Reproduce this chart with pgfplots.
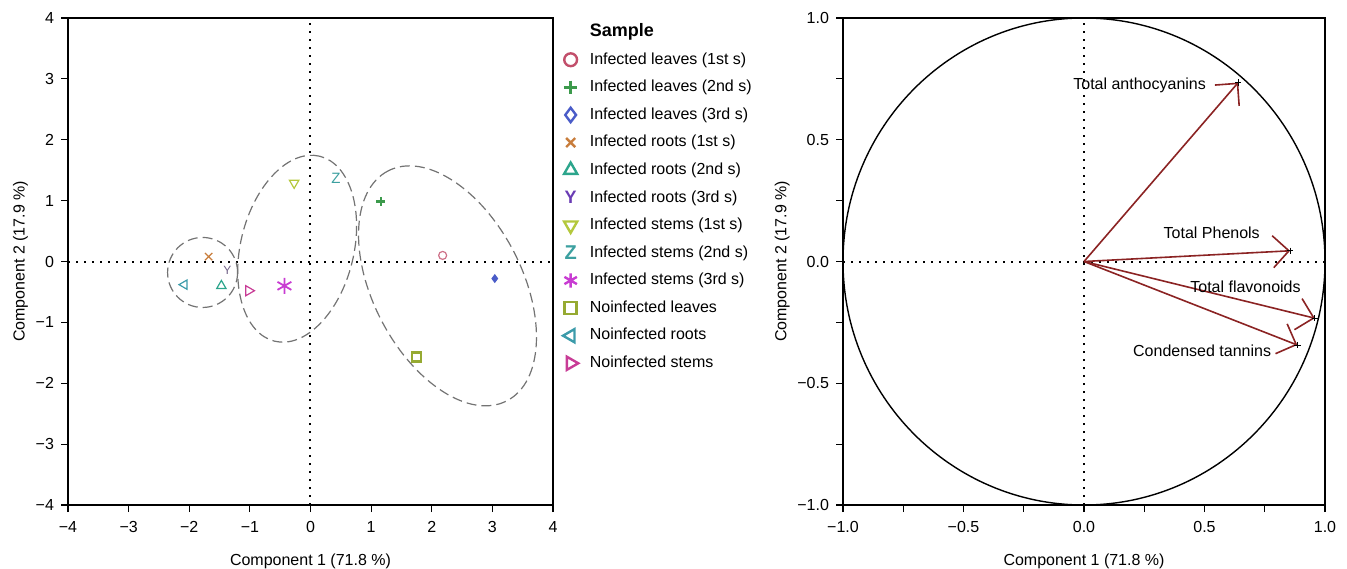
\documentclass[border=0pt]{standalone}
\usepackage{pgfplots}
\pgfplotsset{compat=1.18}
\usepackage{fontspec}
\setmainfont{Liberation Sans}
\usetikzlibrary{arrows.meta}

\definecolor{cA}{HTML}{C24F6B}
\definecolor{cB}{HTML}{3C9A4C}
\definecolor{cC}{HTML}{4A5CC8}
\definecolor{cD}{HTML}{C87D3C}
\definecolor{cE}{HTML}{2CA58C}
\definecolor{cF}{HTML}{6A3CB4}
\definecolor{cG}{HTML}{B4C83C}
\definecolor{cH}{HTML}{3CA0A0}
\definecolor{cI}{HTML}{C83CD2}
\definecolor{cJ}{HTML}{96AA32}
\definecolor{cK}{HTML}{3C9BAA}
\definecolor{cL}{HTML}{C83C96}
\definecolor{vred}{HTML}{8B2323}

\newcommand{\fs}{\fontsize{8}{9.5}\selectfont}

\pgfplotsset{
  pca/.style={
    scale only axis,
    axis line style={line width=0.6pt},
    tick align=outside,
    xtick pos=left, ytick pos=left,
    major tick length=3.5pt, minor tick length=3.5pt,
    every tick/.style={black, line width=0.6pt},
    ticklabel style={font=\fs},
    xticklabel style={yshift=-1pt},
    label style={font=\fs},
    xlabel shift=4pt,
  },
  zeroline/.style={black, line width=1pt, dash pattern=on 1pt off 3pt, forget plot},
  pt/.style={only marks, forget plot, line width=0.6pt},
}

\begin{document}
\begin{tikzpicture}
\begin{axis}[pca,
  at={(0,0)}, anchor=south west,
  width=242.5pt, height=243.5pt,
  xmin=-4, xmax=4, ymin=-4, ymax=4,
  xtick={-4,...,4}, ytick={-4,...,4},
  xticklabels={−4,−3,−2,−1,0,1,2,3,4},
  yticklabels={−4,−3,−2,−1,0,1,2,3,4},
  xlabel={Component 1 (71.8 \%)},
  ylabel={Component 2 (17.9 \%)},
  ylabel shift=-3pt,
  legend cell align=left,
  legend image code/.code={%
    \draw[#1] plot coordinates {(0.3cm,0cm)};
    \path (0cm,0cm) (0.545cm,0cm);},
  legend style={at={(rel axis cs:1,1)}, anchor=north west, xshift=-3.5pt, yshift=1.5pt,
    draw=none, fill=none, font=\fs, row sep=2.5pt},
]
\addplot[zeroline] coordinates {(-4,0) (4,0)};
\addplot[zeroline] coordinates {(0,-4) (0,4)};

% sample scores
\addplot[pt, cA!80, mark=o, mark size=2pt] coordinates {(2.18,0.10)};
\addplot[pt, cB, mark=+, mark size=2.2pt, line width=1.3pt] coordinates {(1.16,0.99)};
\addplot[pt, cC, mark=diamond*, mark size=1.8pt] coordinates {(3.04,-0.28)};
\addplot[pt, cD, mark=x, mark size=2.6pt] coordinates {(-1.68,0.08)};
\addplot[pt, cE, mark=triangle, mark size=2.7pt] coordinates {(-1.47,-0.40)};
\addplot[pt, mark=text, text mark={\fontsize{6}{6}\selectfont\textcolor{cF!45!black!70}{Y}}] coordinates {(-1.37,-0.15)};
\addplot[pt, cG, mark=triangle, mark size=2.7pt, mark options={rotate=180}] coordinates {(-0.27,1.29)};
\addplot[pt, mark=text, text mark={\fontsize{7.5}{7.5}\selectfont\textcolor{cH}{Z}}] coordinates {(0.42,1.36)};
\addplot[pt, cI, mark=asterisk, mark size=4pt, line width=0.9pt] coordinates {(-0.43,-0.40)};
\addplot[pt, cJ, mark=square, mark size=2.2pt, line width=1.2pt] coordinates {(1.75,-1.57)};
\addplot[pt, cK, mark=triangle, mark size=2.7pt, mark options={rotate=90}] coordinates {(-2.08,-0.38)};
\addplot[pt, cL, mark=triangle, mark size=2.9pt, mark options={rotate=-90}] coordinates {(-1.02,-0.48)};

% group ellipses
\draw[black!55, line width=0.6pt, dash pattern=on 5pt off 2.5pt]
  (axis cs:-1.78,-0.18) circle [radius=17.5pt];
\draw[black!55, line width=0.6pt, dash pattern=on 5pt off 2.5pt, rotate around={76.3:(axis cs:-0.22,0.21)}]
  (axis cs:-0.22,0.21) ellipse [x radius=47.6pt, y radius=28.3pt];
\draw[black!55, line width=0.6pt, dash pattern=on 5pt off 2.5pt, rotate around={117.3:(axis cs:2.26,-0.40)}]
  (axis cs:2.26,-0.40) ellipse [x radius=64.7pt, y radius=37.3pt];

% legend
\addlegendimage{empty legend}
\addlegendentry{\fontsize{9}{10}\selectfont\bfseries Sample}
\addlegendimage{only marks, cA, mark=o, mark size=3.2pt, line width=1.2pt}
\addlegendentry{Infected leaves (1st s)}
\addlegendimage{only marks, cB, mark=+, mark size=3.4pt, line width=1.2pt}
\addlegendentry{Infected leaves (2nd s)}
\addlegendimage{only marks, cC, mark=diamond, mark size=3.6pt, line width=1.2pt}
\addlegendentry{Infected leaves (3rd s)}
\addlegendimage{only marks, cD, mark=x, mark size=3.2pt, line width=1.2pt}
\addlegendentry{Infected roots (1st s)}
\addlegendimage{only marks, cE, mark=triangle, mark size=3.8pt, line width=1.2pt}
\addlegendentry{Infected roots (2nd s)}
\addlegendimage{only marks, mark=text, text mark={\bfseries\fontsize{9}{9}\selectfont\textcolor{cF}{Y}}}
\addlegendentry{Infected roots (3rd s)}
\addlegendimage{only marks, cG, mark=triangle, mark size=3.8pt, line width=1.2pt, mark options={rotate=180}}
\addlegendentry{Infected stems (1st s)}
\addlegendimage{only marks, mark=text, text mark={\bfseries\fontsize{10}{10}\selectfont\textcolor{cH}{Z}}}
\addlegendentry{Infected stems (2nd s)}
\addlegendimage{only marks, cI, mark=asterisk, mark size=3.6pt, line width=1.2pt}
\addlegendentry{Infected stems (3rd s)}
\addlegendimage{only marks, cJ, mark=square, mark size=3pt, line width=1.2pt}
\addlegendentry{Noinfected leaves}
\addlegendimage{only marks, cK, mark=triangle, mark size=3.8pt, line width=1.2pt, mark options={rotate=90}}
\addlegendentry{Noinfected roots}
\addlegendimage{only marks, cL, mark=triangle, mark size=3.8pt, line width=1.2pt, mark options={rotate=-90}}
\addlegendentry{Noinfected stems}
\end{axis}

\begin{axis}[pca,
  at={(387.5pt,0)}, anchor=south west,
  width=241pt, height=243.5pt,
  xmin=-1, xmax=1, ymin=-1, ymax=1,
  xtick={-1,-0.5,0,0.5,1}, ytick={-1,-0.5,0,0.5,1},
  minor xtick={-0.75,-0.25,0.25,0.75},
  minor ytick={-0.75,-0.25,0.25,0.75},
  xticklabels={−1.0,−0.5,0.0,0.5,1.0},
  yticklabels={−1.0,−0.5,0.0,0.5,1.0},
  xlabel={Component 1 (71.8 \%)},
  ylabel={Component 2 (17.9 \%)},
  ylabel shift=-3pt,
]
\addplot[zeroline] coordinates {(-1,0) (1,0)};
\addplot[zeroline] coordinates {(0,-1) (0,1)};
\draw[black, line width=0.7pt] (axis cs:0,0) ellipse [x radius=1, y radius=1];

% loadings
\addplot[vred, line width=0.8pt, -{Straight Barb[length=8pt,width=16pt,line width=0.8pt]}] coordinates {(0,0) (0.64,0.735)};
\addplot[vred, line width=0.8pt, -{Straight Barb[length=8pt,width=16pt,line width=0.8pt]}] coordinates {(0,0) (0.855,0.044)};
\addplot[vred, line width=0.8pt, -{Straight Barb[length=8pt,width=16pt,line width=0.8pt]}] coordinates {(0,0) (0.958,-0.233)};
\addplot[vred, line width=0.8pt, -{Straight Barb[length=8pt,width=16pt,line width=0.8pt]}] coordinates {(0,0) (0.885,-0.343)};
\addplot[only marks, black, mark=+, mark size=1.6pt, line width=0.4pt] coordinates {(0.64,0.735) (0.855,0.044) (0.958,-0.233) (0.885,-0.343)};

\node[font=\fs, anchor=east] at (axis cs:0.535,0.725) {Total anthocyanins};
\node[font=\fs] at (axis cs:0.53,0.12) {Total Phenols};
\node[font=\fs] at (axis cs:0.67,-0.105) {Total flavonoids};
\node[font=\fs] at (axis cs:0.49,-0.365) {Condensed tannins};
\end{axis}

\pgfresetboundingbox
\useasboundingbox (-34pt,-31.5pt) rectangle (639.5pt,252.5pt);
\end{tikzpicture}
\end{document}
